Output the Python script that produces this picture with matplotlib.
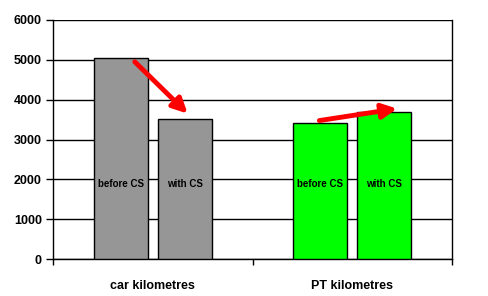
import matplotlib.pyplot as plt
from matplotlib.ticker import FixedLocator, NullFormatter

# data
categories = ['car kilometres', 'PT kilometres']
phases = ['before CS', 'with CS']
before_cs = [5050, 3410]
with_cs = [3525, 3700]
bar_colors = ['#969696', '#00ff00']
y_ticks = [0, 1000, 2000, 3000, 4000, 5000, 6000]

# arrows (start x, start y, end x, end y) in data coords
arrows = [(-0.09, 4950, 0.175, 3650),
          (0.835, 3475, 1.225, 3775)]

plt.rcParams['font.family'] = ['Liberation Sans Narrow', 'Liberation Sans', 'DejaVu Sans']
plt.rcParams['font.weight'] = 'bold'

fig = plt.figure(figsize=(4.88, 2.96), dpi=100, facecolor='w')
ax = fig.add_axes([53 / 488, 1 - 259 / 296, 399 / 488, 239 / 296])

width = 0.27
gap = 0.05
for i in range(len(categories)):
    xb = i - gap / 2 - width / 2
    xw = i + gap / 2 + width / 2
    ax.bar(xb, before_cs[i], width, color=bar_colors[i], edgecolor='black', linewidth=1, zorder=3)
    ax.bar(xw, with_cs[i], width, color=bar_colors[i], edgecolor='black', linewidth=1, zorder=3)
    ax.text(xb, 1875, phases[0], ha='center', va='center', fontsize=7, fontweight='bold', zorder=4)
    ax.text(xw, 1875, phases[1], ha='center', va='center', fontsize=7, fontweight='bold', zorder=4)

for x0, y0, x1, y1 in arrows:
    ax.annotate('', xy=(x1, y1), xytext=(x0, y0),
                arrowprops=dict(arrowstyle='-|>', color='red', lw=3.5, mutation_scale=22,
                                shrinkA=0, shrinkB=0), zorder=5)

ax.set_xlim(-0.5, 1.5)
ax.set_ylim(0, 6000)
ax.set_yticks(y_ticks)
ax.set_yticklabels([str(v) for v in y_ticks], fontsize=9, fontweight='bold')
ax.yaxis.grid(True, color='black', linewidth=1, zorder=0)
ax.set_axisbelow(True)

# category labels between edge ticks
ax.xaxis.set_major_locator(FixedLocator([-0.5, 0.5, 1.5]))
ax.xaxis.set_major_formatter(NullFormatter())
ax.xaxis.set_minor_locator(FixedLocator([0, 1]))
ax.set_xticklabels(categories, minor=True, fontsize=9, fontweight='bold')
ax.tick_params(axis='x', which='minor', length=0, pad=15)
ax.tick_params(axis='x', which='major', length=4, direction='out', width=1)
ax.tick_params(axis='y', length=5, direction='out', width=1, pad=3)

for s in ['left', 'bottom', 'right']:
    ax.spines[s].set_color('black')
    ax.spines[s].set_linewidth(1)
ax.spines['top'].set_visible(False)

plt.savefig('out.png', dpi=100)
